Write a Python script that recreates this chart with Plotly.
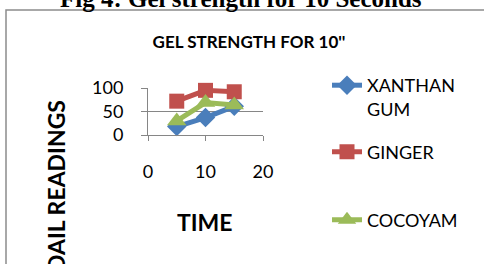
import plotly.graph_objects as go

# ---- data ----
time = [5, 10, 15]
xanthan = [18, 37, 61]
ginger = [72, 95, 92]
cocoyam = [30, 69, 64]
series_names = ["XANTHAN<br>GUM", "GINGER", "COCOYAM"]
x_ticks = [0, 10, 20]
y_ticks = [0, 50, 100]

W, H = 484, 264
L, R, T, B = 148, 221, 88, 129
PW, PH = W - L - R, H - T - B

def px(xp):
    return (xp - L) / PW

def py(yp):
    return (H - B - yp) / PH

FONT = "Lato"
colors = ["#4A7EBB", "#C0504D", "#9BBB59"]
symbols = ["diamond", "square", "triangle-up"]
sizes = [15, 15, 17]
legends = ["legend", "legend2", "legend3"]

fig = go.Figure()
for name, vals, c, s, sz, lg in zip(series_names, [xanthan, ginger, cocoyam],
                                     colors, symbols, sizes, legends):
    fig.add_trace(go.Scatter(
        x=time, y=vals, name=name, mode="lines+markers",
        line=dict(color=c, width=5),
        marker=dict(symbol=s, size=sz, color=c),
        legend=lg, cliponaxis=False, showlegend=True,
    ))

leg_common = dict(bgcolor="rgba(0,0,0,0)", font=dict(family=FONT, size=18, color="#000"),
                  xanchor="left", yanchor="middle", valign="top", itemwidth=30,
                  borderwidth=0, xref="container", yref="container")
fig.update_layout(
    width=W, height=H, showlegend=True,
    margin=dict(l=L, r=R, t=T, b=B, autoexpand=False),
    paper_bgcolor="white", plot_bgcolor="white",
    font=dict(family=FONT, color="#000"),
    title=dict(text="<b>GEL STRENGTH FOR 10''</b>", x=249 / W, xref="container",
               xanchor="center", y=1 - 42.5 / H, yref="container", yanchor="middle",
               font=dict(family=FONT, size=17, color="#000")),
    legend=dict(x=327 / W, y=1 - 97 / H, **leg_common),
    legend2=dict(x=327 / W, y=1 - 152 / H, **leg_common),
    legend3=dict(x=327 / W, y=1 - 220 / H, **leg_common),
    xaxis=dict(range=[0, 20], tickvals=x_ticks, ticks="outside", ticklen=5,
               tickcolor="#868686", showline=True, linecolor="#868686", linewidth=1,
               showgrid=False, zeroline=False, ticklabelstandoff=15,
               tickfont=dict(family=FONT, size=18, color="#000")),
    yaxis=dict(range=[0, 100], tickvals=y_ticks, ticks="outside", ticklen=6,
               tickcolor="#868686", showline=True, linecolor="#868686", linewidth=1,
               showgrid=True, gridcolor="#868686", gridwidth=1, zeroline=False,
               ticklabelstandoff=14,
               tickfont=dict(family=FONT, size=18, color="#000")),
)

# y axis title (rotated, partly cut by figure edge as in source)
fig.add_annotation(text="<b>DAIL READINGS</b>", xref="paper", yref="paper",
                   x=px(56), y=py(186), xanchor="center", yanchor="middle",
                   textangle=-90, showarrow=False,
                   font=dict(family=FONT, size=23, color="#000"))
# x axis title
fig.add_annotation(text="<b>TIME</b>", xref="paper", yref="paper",
                   x=px(205), y=py(222), xanchor="center", yanchor="middle",
                   showarrow=False, font=dict(family=FONT, size=23, color="#000"))
# document caption above chart, cut at the top edge
fig.add_annotation(text="<b>Fig 4: Gel strength for 10 Seconds</b>", xref="paper", yref="paper",
                   x=px(241), y=py(-2), xanchor="center", yanchor="middle",
                   showarrow=False,
                   font=dict(family="Liberation Serif", size=25, color="#000"))
# chart border
fig.add_shape(type="rect", xref="paper", yref="paper",
              x0=px(6), x1=px(520), y0=py(300), y1=py(10),
              line=dict(color="#8c8c8c", width=1.5), fillcolor="rgba(0,0,0,0)", layer="below")

fig.write_html("out.html", config={"displayModeBar": False},
               post_script="document.body.style.margin='0';document.body.style.overflow='hidden';")
